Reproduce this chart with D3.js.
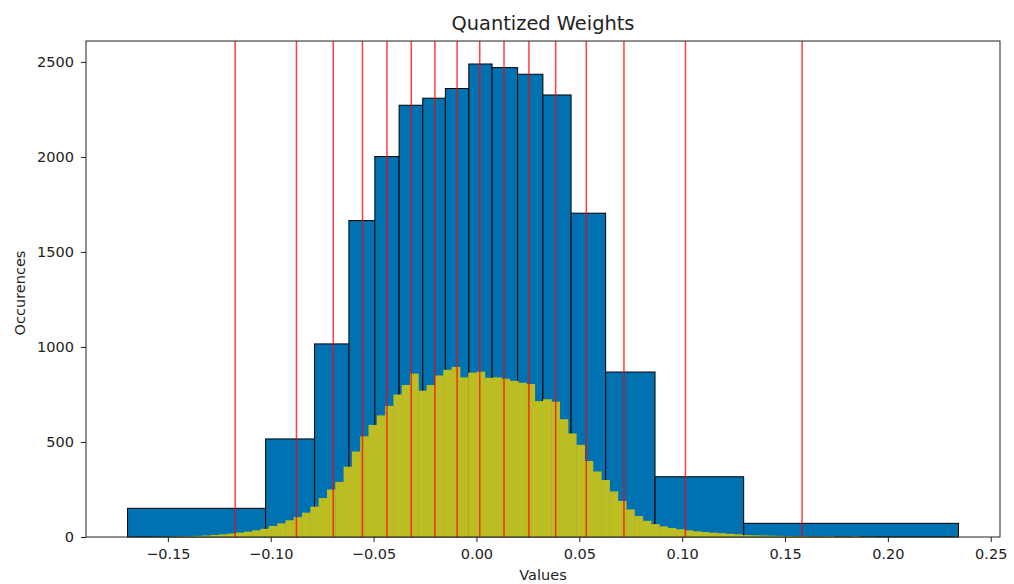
<!DOCTYPE html>
<html>
<head>
<meta charset="utf-8">
<script src="https://cdn.jsdelivr.net/npm/d3@7/dist/d3.min.js"></script>
<style>
  body { margin: 0; background: #fff; }
  text { font-family: "DejaVu Sans", sans-serif; fill: #222; }
</style>
</head>
<body>
<div id="chart"></div>
<script>
// quantized levels (red lines) and the bins around them (blue bars)
const qCenters = [-0.1173, -0.0875, -0.0696, -0.0554, -0.0435, -0.0317, -0.0202, -0.0094,
  0.0016, 0.0134, 0.0255, 0.0385, 0.0534, 0.0717, 0.1016, 0.1583];
const qEdges = [-0.1696, -0.1025, -0.0787, -0.0620, -0.0494, -0.0376, -0.0261, -0.0151,
  -0.0037, 0.0076, 0.0200, 0.0323, 0.0460, 0.0628, 0.0868, 0.1299, 0.2343];
const qCounts = [151, 516, 1016, 1665, 2002, 2272, 2309, 2360,
  2489, 2470, 2435, 2326, 1704, 868, 317, 72];

// raw weight histogram, 100 equal bins between min and max
const rawMin = -0.1696, rawMax = 0.2343;
const rawCounts = [
  1, 0, 0, 1, 1, 2, 3, 4, 6, 8,
  11, 14, 18, 23, 28, 35, 43,
  58, 72, 88, 105, 128, 160, 205, 250, 290, 370, 450, 530, 590,
  640, 690, 750, 800, 860, 770, 800, 850, 880, 895,
  840, 865, 870, 838, 840, 833, 822, 812, 805, 715,
  725, 712, 620, 545, 485, 400, 345, 300, 240, 190,
  145, 110, 85, 68, 56, 48, 41,
  35, 30, 26, 23, 20, 17, 14,
  10, 9, 8, 7, 6, 5, 4, 4, 3, 3, 4, 2, 2, 4, 1, 1,
  0, 0, 0, 0, 0, 0, 0, 0, 0, 1
];

const xTicks = [-0.15, -0.10, -0.05, 0.00, 0.05, 0.10, 0.15, 0.20, 0.25];
const yTicks = [0, 500, 1000, 1500, 2000, 2500];

const W = 1014, H = 584;
const margin = {top: 41, right: 14, bottom: 47, left: 86};

const svg = d3.select("#chart")
  .append("svg")
  .attr("width", W)
  .attr("height", H);

const x = d3.scaleLinear()
  .domain([-0.1898, 0.2545])
  .range([margin.left, W - margin.right]);

const y = d3.scaleLinear()
  .domain([0, 2610])
  .range([H - margin.bottom, margin.top]);

// blue bars
const blue = qCounts.map((c, i) => ({x0: qEdges[i], x1: qEdges[i + 1], c: c}));
svg.append("g")
  .selectAll("rect")
  .data(blue)
  .enter()
  .append("rect")
  .attr("x", d => x(d.x0))
  .attr("y", d => y(d.c))
  .attr("width", d => x(d.x1) - x(d.x0))
  .attr("height", d => y(0) - y(d.c))
  .attr("fill", "#0072b2")
  .attr("stroke", "#000")
  .attr("stroke-width", 1);

// yellow raw histogram
const step = (rawMax - rawMin) / rawCounts.length;
const raw = rawCounts.map((c, i) => ({x0: rawMin + i * step, x1: rawMin + (i + 1) * step, c: c}));
svg.append("g")
  .selectAll("rect")
  .data(raw)
  .enter()
  .append("rect")
  .attr("x", d => x(d.x0))
  .attr("y", d => y(d.c))
  .attr("width", d => x(d.x1) - x(d.x0) + 0.4)
  .attr("height", d => y(0) - y(d.c))
  .attr("fill", "#bcbd22");

// red lines at the quantized values
svg.append("g")
  .selectAll("line")
  .data(qCenters)
  .enter()
  .append("line")
  .attr("x1", d => x(d))
  .attr("x2", d => x(d))
  .attr("y1", margin.top)
  .attr("y2", H - margin.bottom)
  .attr("stroke", "red")
  .attr("stroke-opacity", 0.75)
  .attr("stroke-width", 1.5);

// axes
const fmtX = d => d3.format(".2f")(d).replace("-", "\u2212");
const xAxis = svg.append("g")
  .attr("transform", "translate(0," + (H - margin.bottom) + ")")
  .call(d3.axisBottom(x).tickValues(xTicks).tickFormat(fmtX).tickSize(5).tickPadding(7));

const yAxis = svg.append("g")
  .attr("transform", "translate(" + margin.left + ",0)")
  .call(d3.axisLeft(y).tickValues(yTicks).tickSize(5).tickPadding(7).tickFormat(d3.format("d")));

[xAxis, yAxis].forEach(g => {
  g.select(".domain").remove();
  g.selectAll("text").style("font-size", "14.5px").attr("fill", "#222");
  g.selectAll("line").attr("stroke", "#222");
});

// frame
svg.append("rect")
  .attr("x", margin.left)
  .attr("y", margin.top)
  .attr("width", W - margin.left - margin.right)
  .attr("height", H - margin.top - margin.bottom)
  .attr("fill", "none")
  .attr("stroke", "#222")
  .attr("stroke-width", 1);

// titles
svg.append("text")
  .attr("x", (margin.left + W - margin.right) / 2)
  .attr("y", 30)
  .attr("text-anchor", "middle")
  .style("font-size", "19.4px")
  .text("Quantized Weights");

svg.append("text")
  .attr("x", (margin.left + W - margin.right) / 2)
  .attr("y", 580)
  .attr("text-anchor", "middle")
  .style("font-size", "14.5px")
  .text("Values");

svg.append("text")
  .attr("transform", "translate(25," + ((margin.top + H - margin.bottom) / 2 + 4) + ")rotate(-90)")
  .attr("text-anchor", "middle")
  .style("font-size", "14.5px")
  .text("Occurences");
</script>
</body>
</html>
